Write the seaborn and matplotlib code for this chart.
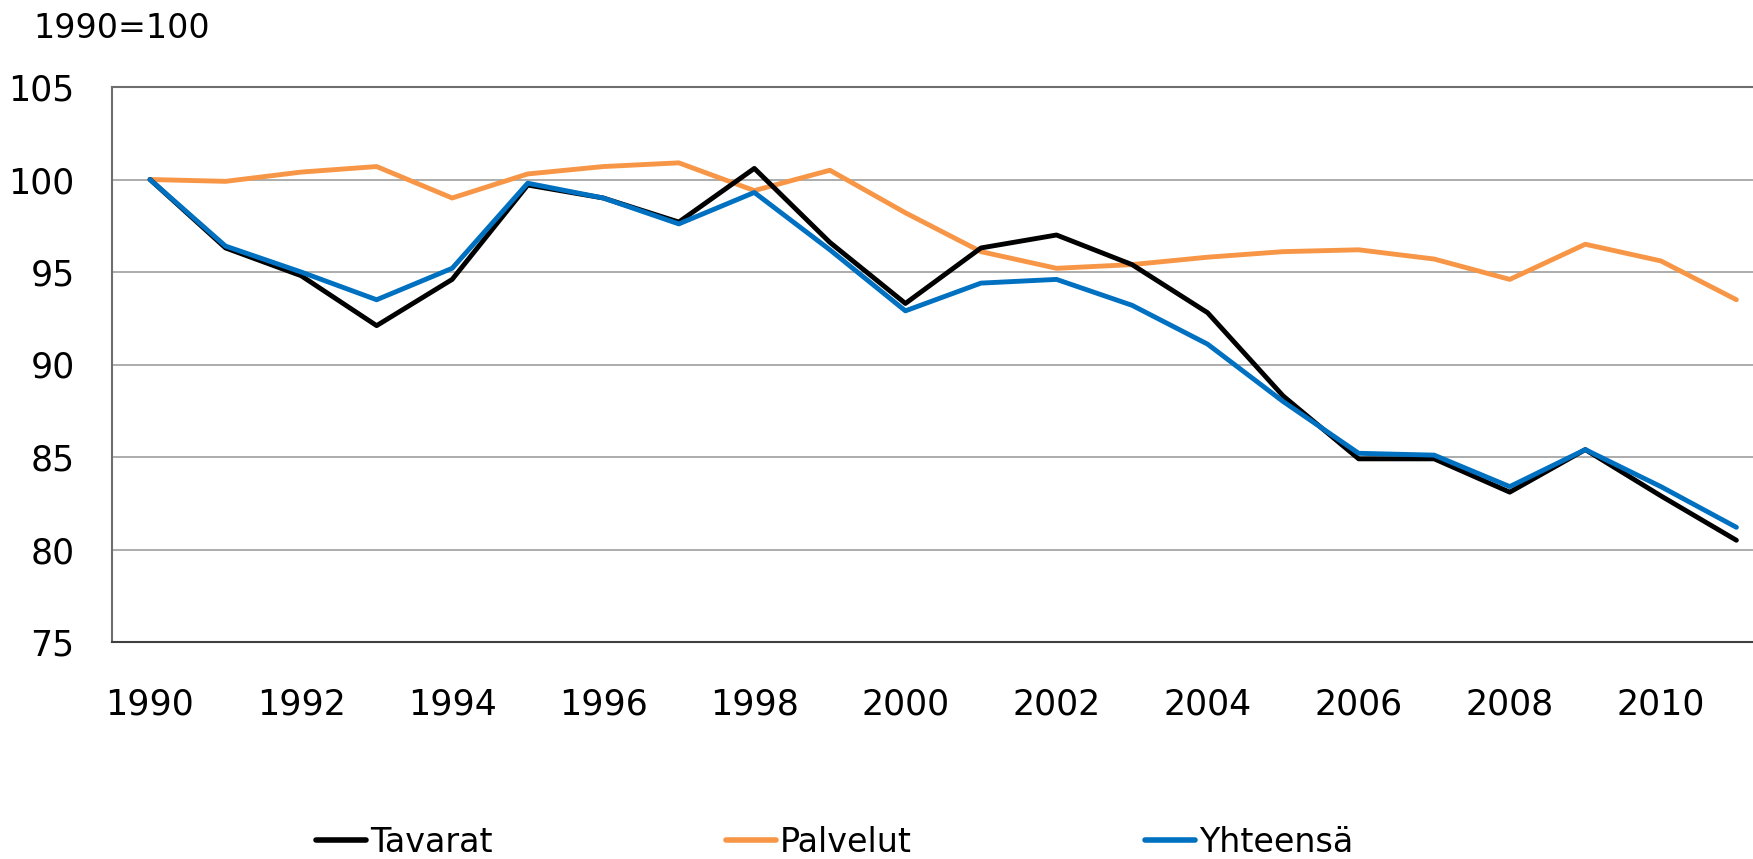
import matplotlib
matplotlib.use("Agg")
import matplotlib.pyplot as plt
import pandas as pd
import seaborn as sns

# vuodet ja indeksit (1990=100)
years = list(range(1990, 2012))
tavarat = [100.0, 96.3, 94.8, 92.1, 94.6, 99.7, 99.0, 97.7, 100.6, 96.6, 93.3, 96.3,
           97.0, 95.4, 92.8, 88.3, 84.9, 84.9, 83.1, 85.4, 82.9, 80.5]
palvelut = [100.0, 99.9, 100.4, 100.7, 99.0, 100.3, 100.7, 100.9, 99.4, 100.5, 98.2, 96.1,
            95.2, 95.4, 95.8, 96.1, 96.2, 95.7, 94.6, 96.5, 95.6, 93.5]
yhteensa = [100.0, 96.4, 95.0, 93.5, 95.2, 99.8, 99.0, 97.6, 99.3, 96.2, 92.9, 94.4,
            94.6, 93.2, 91.1, 88.0, 85.2, 85.1, 83.4, 85.4, 83.4, 81.2]
series_names = ["Tavarat", "Palvelut", "Yhteensä"]
colors = {"Tavarat": "#000000", "Palvelut": "#F79646", "Yhteensä": "#0070C0"}
yticks = [75, 80, 85, 90, 95, 100, 105]
xticks = list(range(1990, 2011, 2))

df = pd.DataFrame({
    "vuosi": years * 3,
    "arvo": tavarat + palvelut + yhteensa,
    "sarja": [n for n in series_names for _ in years],
})

sns.set_style("white")
plt.rcParams["font.family"] = ["DejaVu Sans"]
plt.rcParams["text.color"] = "black"

fig = plt.figure(figsize=(17.53, 8.59), dpi=100)
ax = fig.add_axes([112 / 1753, 1 - 642 / 859, 1 - 112 / 1753, (642 - 87) / 859])

sns.lineplot(data=df, x="vuosi", y="arvo", hue="sarja", hue_order=series_names,
             palette=colors, linewidth=3.5, ax=ax, legend=False)
# piirtojärjestys: oranssi alimmaksi, sininen päällimmäiseksi
z = {"Tavarat": 3, "Palvelut": 2, "Yhteensä": 4}
for line, name in zip(ax.lines, series_names):
    line.set_zorder(z[name])

ax.set_xlim(1989.497, 2011.22)
ax.set_ylim(75, 105)
ax.set_yticks(yticks)
ax.set_xticks(xticks)
ax.set_xlabel("")
ax.set_ylabel("")
ax.yaxis.grid(True, color="#A6A6A6", linewidth=1.3)
ax.set_axisbelow(True)
ax.tick_params(axis="both", length=0, labelsize=25, colors="black")
ax.tick_params(axis="y", pad=27)
ax.tick_params(axis="x", pad=33)

for side in ["left", "top"]:
    ax.spines[side].set_color("#6E6E6E")
    ax.spines[side].set_linewidth(1.5)
ax.spines["bottom"].set_color("#404040")
ax.spines["bottom"].set_linewidth(1.5)
ax.spines["right"].set_visible(False)

fig.text(33 / 1753, 1 - 28 / 859, "1990=100", fontsize=24, va="center", ha="left")

handles = [plt.Line2D([], [], color=colors[n], linewidth=4) for n in series_names]
fig.legend(handles, series_names, loc="center", bbox_to_anchor=(0.476, 1 - 842 / 859),
           ncol=3, frameon=False, fontsize=24, handlelength=1.5, handletextpad=0.12,
           columnspacing=7.0)

fig.savefig("out.png", dpi=100)
